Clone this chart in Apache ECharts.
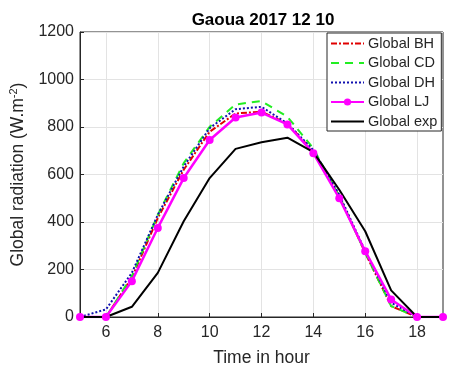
<!DOCTYPE html>
<html>
<head>
<meta charset="utf-8">
<script src="https://cdn.jsdelivr.net/npm/echarts@6/dist/echarts.min.js"></script>
<style>
  html, body { margin: 0; padding: 0; background: #fff; }
  #chart { width: 449px; height: 372px; }
</style>
</head>
<body>
<div id="chart"></div>
<script>
// hours of the day (x axis)
const hours = [5, 6, 7, 8, 9, 10, 11, 12, 13, 14, 15, 16, 17, 18, 19]
const xTicks = [6, 8, 10, 12, 14, 16, 18]

// global radiation, W.m-2
const globalBH = [0, 0, 165, 417, 620, 780, 857, 864, 815, 697, 508, 270, 46, 0, 0]
const globalCD = [0, 0, 172, 430, 648, 801, 895, 909, 843, 710, 508, 270, 46, 0, 0]
const globalDH = [0, 32, 186, 430, 634, 795, 875, 885, 815, 703, 515, 277, 60, 0, 0]
const globalLJ = [0, 0, 151, 375, 585, 745, 840, 861, 811, 690, 500, 277, 74, 0, 0]
const globalExp = [0, 0, 43, 186, 403, 585, 708, 736, 755, 694, 536, 361, 112, 0, 0]

const FONT = '"Liberation Sans", Arial, sans-serif'
const TXT = '#262626'

const pairs = (ys) => hours.map((h, i) => [h, ys[i]])

const chart = echarts.init(document.getElementById('chart'))

const lineSeries = (name, data, color, type, width) => ({
  name,
  type: 'line',
  data: pairs(data),
  symbol: 'none',
  lineStyle: { color, type, width },
  itemStyle: { color },
})

// legend entries: plain line samples except LJ which keeps its marker
const noMark = (name) => ({ name, itemStyle: { opacity: 0 } })

chart.setOption({
  animation: false,
  title: {
    text: 'Gaoua 2017 12 10',
    left: 258,
    textAlign: 'center',
    top: 7,
    textStyle: { fontFamily: FONT, fontSize: 17, fontWeight: 'bold', color: '#000' },
  },
  grid: {
    left: 74, right: 6, top: 32, bottom: 53,
    show: true, borderColor: TXT, borderWidth: 1,
  },
  legend: {
    orient: 'vertical',
    left: 327,
    top: 33,
    padding: [3, 4, 2, 3],
    itemWidth: 33,
    itemHeight: 9,
    itemGap: 4.5,
    borderColor: TXT,
    borderWidth: 1,
    backgroundColor: '#fff',
    textStyle: { fontFamily: FONT, fontSize: 14.5, lineHeight: 14, color: TXT, padding: [0, 0, 0, -1] },
    data: [noMark('Global BH'), noMark('Global CD'), noMark('Global DH'), 'Global LJ', noMark('Global exp')],
  },
  xAxis: {
    type: 'value',
    min: 5,
    max: 19,
    name: 'Time in hour',
    nameLocation: 'middle',
    nameGap: 32,
    nameTextStyle: { fontFamily: FONT, fontSize: 17.5, color: TXT },
    axisLine: { lineStyle: { color: TXT } },
    axisTick: { inside: true, length: 4, customValues: xTicks, lineStyle: { color: TXT } },
    axisLabel: { customValues: xTicks, margin: 8, fontFamily: FONT, fontSize: 16, color: TXT },
    splitLine: { show: true, lineStyle: { color: '#e3e3e3' } },
  },
  yAxis: {
    type: 'value',
    min: 0,
    max: 1200,
    interval: 200,
    name: 'Global radiation (W.m{sup|-2})',
    nameLocation: 'middle',
    nameGap: 52,
    nameTextStyle: {
      fontFamily: FONT, fontSize: 17.5, color: TXT,
      rich: { sup: { fontFamily: FONT, fontSize: 11, color: TXT, verticalAlign: 'top', padding: [0, 0, 9, 0] } },
    },
    axisLine: { show: true, lineStyle: { color: TXT } },
    axisTick: { show: true, inside: true, length: 4, lineStyle: { color: TXT } },
    axisLabel: { margin: 6, fontFamily: FONT, fontSize: 16, color: TXT, formatter: (v) => String(v) },
    splitLine: { show: true, lineStyle: { color: '#e3e3e3' } },
  },
  series: [
    lineSeries('Global BH', globalBH, '#e00000', [6, 2, 2, 2], 2),
    lineSeries('Global CD', globalCD, '#22ee22', [8, 6], 2),
    lineSeries('Global DH', globalDH, '#1010b0', [2, 2], 2),
    {
      name: 'Global LJ',
      type: 'line',
      data: pairs(globalLJ),
      symbol: 'circle',
      symbolSize: 8,
      lineStyle: { color: '#ff00ff', width: 2.5 },
      itemStyle: { color: '#ff00ff' },
    },
    lineSeries('Global exp', globalExp, '#000000', 'solid', 2),
  ],
})
</script>
</body>
</html>
